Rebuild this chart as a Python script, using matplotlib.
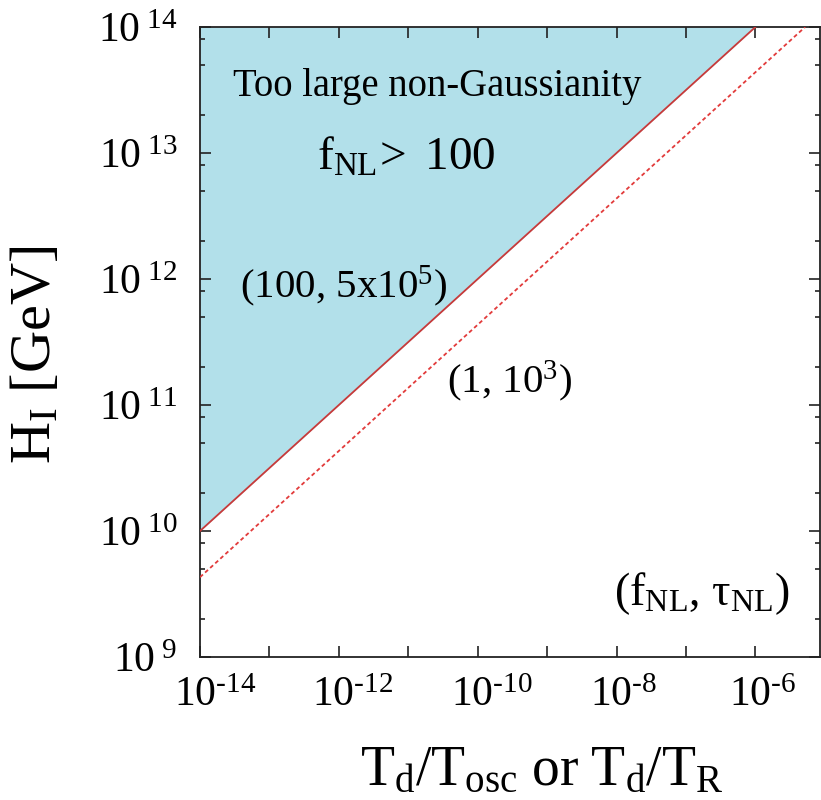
import numpy as np
import matplotlib
matplotlib.use('Agg')
import matplotlib.pyplot as plt
from matplotlib.ticker import FixedLocator, FixedFormatter, LogLocator, NullFormatter
from matplotlib.transforms import ScaledTranslation

plt.rcParams['font.family'] = ['Liberation Serif', 'DejaVu Serif']
plt.rcParams['mathtext.fontset'] = 'custom'
plt.rcParams['mathtext.rm'] = 'Liberation Serif'
plt.rcParams['mathtext.it'] = 'Liberation Serif:italic'
plt.rcParams['mathtext.bf'] = 'Liberation Serif:bold'

# boundary lines (straight in log-log, end points)
solid_x = [1e-14, 1e-6]
solid_h = [1e10, 1e14]
dotted_x = [1e-14, 5.2e-6]
dotted_h = [4.3e9, 1e14]

xlim = [1e-14, 10 ** -5.07]
ylim = [1e9, 1e14]

xtick_vals = [1e-14, 1e-13, 1e-12, 1e-11, 1e-10, 1e-9, 1e-8, 1e-7, 1e-6]
xtick_labels = [r'$10^{\text{-14}}$', '', r'$10^{\text{-12}}$', '',
                r'$10^{\text{-10}}$', '', r'$10^{\text{-8}}$', '',
                r'$10^{\text{-6}}$']
ytick_vals = [1e9, 1e10, 1e11, 1e12, 1e13, 1e14]
ytick_labels = [r'$10^{\ 9}$', r'$10^{\ 10}$', r'$10^{\ 11}$',
                r'$10^{\ 12}$', r'$10^{\ 13}$', r'$10^{\ 14}$']

fig = plt.figure(figsize=(8.21, 8.0), dpi=100)
ax = fig.add_axes([200 / 821, 1 - 657 / 800, 620 / 821, 630 / 800])

ax.fill_between(solid_x, solid_h, ylim[1], color='#b2e0ea', lw=0, zorder=1)
ax.plot(solid_x, solid_h, color='#c83a3a', lw=1.3, zorder=3)
ax.plot(dotted_x, dotted_h, color='#e23b3b', lw=1.3, ls=(0, (2.2, 1.6)), zorder=3)

ax.set_xscale('log')
ax.set_yscale('log')
ax.set_xlim(xlim)
ax.set_ylim(ylim)

ax.xaxis.set_major_locator(FixedLocator(xtick_vals))
ax.xaxis.set_major_formatter(FixedFormatter(xtick_labels))
ax.xaxis.set_minor_locator(FixedLocator([]))
ax.yaxis.set_major_locator(FixedLocator(ytick_vals))
ax.yaxis.set_major_formatter(FixedFormatter(ytick_labels))
ax.yaxis.set_minor_locator(LogLocator(base=10, subs=[2, 5, 8]))
ax.yaxis.set_minor_formatter(NullFormatter())

ax.tick_params(which='both', direction='in', top=True, right=True,
               width=1.2, color='#222222', labelsize=30)
ax.tick_params(which='major', length=8)
ax.tick_params(which='minor', length=3.6)
ax.tick_params(axis='x', pad=14)
ax.tick_params(axis='y', pad=16)
for s in ax.spines.values():
    s.set_linewidth(1.3)
    s.set_color('#222222')

# gnuplot style: the "10" sits on the tick, exponent hangs to the right
offset = ScaledTranslation(-19 / 72, 0, fig.dpi_scale_trans)
for lab in ax.xaxis.get_majorticklabels():
    lab.set_horizontalalignment('left')
    lab.set_transform(lab.get_transform() + offset)

ax.set_xlabel(r'$\mathrm{T_d/T_{osc}\ or\ T_d/T_R}$', fontsize=40)
ax.xaxis.set_label_coords(0.552, -0.14)
ax.set_ylabel(r'$\mathrm{H_I\ [GeV]}$', fontsize=42)
ax.yaxis.set_label_coords(-0.222, 0.479)

ax.text(0.053, 0.905, 'Too large non-Gaussianity', transform=ax.transAxes,
        fontsize=27.8, ha='left', va='center', zorder=4)
ax.text(0.189, 0.773, r'$\mathrm{f_{NL}}\!>$ 100', transform=ax.transAxes,
        fontsize=34, ha='left', va='baseline', zorder=4)
ax.text(0.065, 0.57, r'(100, 5x10$^5$)', transform=ax.transAxes,
        fontsize=29.5, ha='left', va='baseline', zorder=4)
ax.text(0.398, 0.419, r'(1, 10$^3$)', transform=ax.transAxes,
        fontsize=29.5, ha='left', va='baseline', zorder=4)
ax.text(0.667, 0.083, '(f$_{\\mathrm{NL}}$, τ$_{\\mathrm{NL}}$)', transform=ax.transAxes,
        fontsize=33, ha='left', va='baseline', zorder=4)

fig.savefig('out.png', dpi=100)
